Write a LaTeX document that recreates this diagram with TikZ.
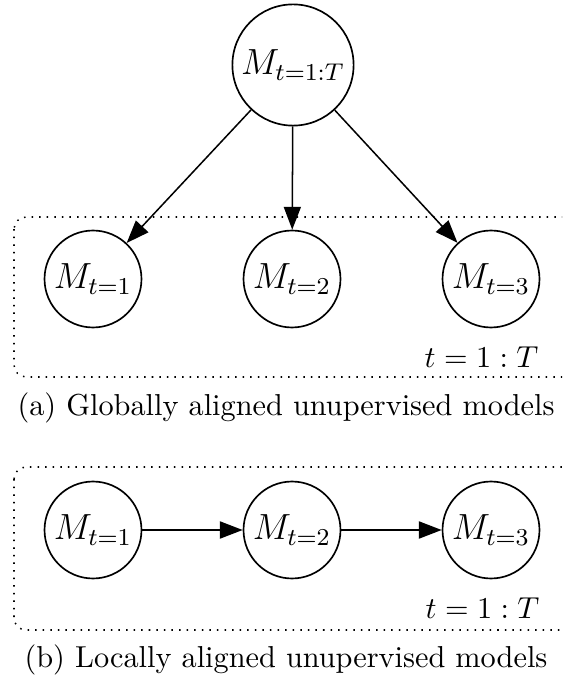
\documentclass[tikz,border=0pt]{standalone}
\usetikzlibrary{arrows.meta}
\begin{document}
\begin{tikzpicture}[x=0.33pt,y=-0.33pt,
  mnode/.style={draw,circle,line width=0.55pt,inner sep=0pt,minimum size=32pt,font=\large},
  topnode/.style={draw,circle,line width=0.55pt,inner sep=0pt,minimum size=40pt,font=\large},
  arr/.style={-{Triangle[length=7.5pt,width=5.6pt]},line width=0.5pt},
  platebox/.style={dotted,line width=0.5pt,rounded corners=4pt}]
\useasboundingbox (0,0) rectangle (562,681);
\clip (0,0) rectangle (562,681);
% (a)
\node[topnode] (T) at (293,65) {$M_{t=1:T}$};
\node[mnode] (a1) at (93,279) {$M_{t=1}$};
\node[mnode] (a2) at (292,279) {$M_{t=2}$};
\node[mnode] (a3) at (491,279) {$M_{t=3}$};
\draw[arr] (T) -- (a1);
\draw[arr] (T) -- (a2);
\draw[arr] (T) -- (a3);
\draw[platebox] (14,217) rectangle (620,377);
\node[anchor=east,inner sep=0pt] (la) at (539,357) {$t=1:T$};
\node (ca) at (286,408) {(a) Globally aligned unupervised models};
% (b)
\node[mnode] (b1) at (93,530) {$M_{t=1}$};
\node[mnode] (b2) at (292,530) {$M_{t=2}$};
\node[mnode] (b3) at (491,530) {$M_{t=3}$};
\draw[arr,line width=0.65pt] (b1) -- (b2);
\draw[arr,line width=0.65pt] (b2) -- (b3);
\draw[platebox] (14,467) rectangle (620,630);
\node[anchor=east,inner sep=0pt] (lb) at (540,608) {$t=1:T$};
\node (cb) at (286,660) {(b) Locally aligned unupervised models};
\end{tikzpicture}
\end{document}
